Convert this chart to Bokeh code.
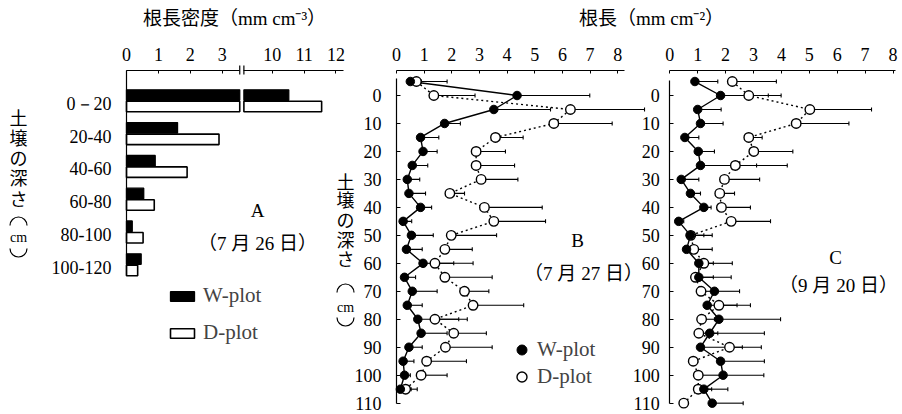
import math
from bokeh.plotting import figure
from bokeh.models import (Range1d, LinearAxis, FixedTicker, Label, Legend, LegendItem,
                          ColumnDataSource, Whisker, TeeHead, Grid)
from bokeh.embed import file_html
from bokeh.resources import INLINE

# ---------------- data ----------------
# Panel A : root length density (mm cm-3), 7/26
depth_classes = ["0－20", "20-40", "40-60", "60-80", "80-100", "100-120"]
rld_w = [10.52, 1.60, 0.90, 0.54, 0.18, 0.46]
rld_d = [11.55, 2.90, 1.90, 0.87, 0.52, 0.35]
a_ticks_low = [0, 1, 2, 3]
a_ticks_high = [10, 11, 12]

# Panel B : root length (mm cm-2), 7/27
depth_b = [-5, 0, 5, 10, 15, 20, 25, 30, 35, 40, 45, 50, 55, 60, 65, 70, 75, 80, 85, 90, 95, 100, 105]
w_b = [0.50, 4.36, 3.52, 1.74, 0.87, 0.96, 0.57, 0.39, 0.45, 0.87, 0.24, 0.54, 0.36, 0.96, 0.29,
       0.57, 0.39, 0.77, 0.89, 0.45, 0.24, 0.29, 0.14]
w_b_sd = [0.40, 2.63, 2.05, 0.57, 0.66, 0.51, 0.56, 0.45, 0.60, 0.40, 0.31, 0.79, 0.57, 1.11, 0.40,
          0.90, 0.54, 1.48, 0.94, 0.48, 0.39, 0.21, 0.39]
d_b = [0.72, 1.35, 6.29, 5.69, 3.58, 2.88, 2.88, 3.06, 1.93, 3.18, 3.52, 1.98, 1.75, 1.39, 1.75,
       2.46, 2.77, 1.39, 2.07, 1.77, 1.09, 0.89, 0.33]
d_b_sd = [1.11, 1.49, 2.68, 2.11, 1.00, 1.06, 1.39, 1.33, 0.53, 2.09, 1.87, 1.64, 0.99, 1.38, 1.71,
          0.88, 1.83, 1.17, 1.18, 1.69, 1.44, 0.94, 0.42]

# Panel C : root length (mm cm-2), 9/20
depth_c = [-5, 0, 5, 10, 15, 20, 25, 30, 35, 40, 45, 50, 55, 60, 65, 70, 75, 80, 85, 90, 95, 100, 105, 110]
w_c = [0.90, 1.82, 1.00, 1.10, 0.54, 1.02, 1.10, 0.41, 0.74, 1.22, 0.32, 0.74, 0.60, 1.04, 1.04,
       1.60, 1.34, 1.76, 1.43, 1.10, 1.82, 1.91, 1.22, 1.52]
w_c_sd = [0.82, 1.71, 0.84, 0.81, 0.50, 0.58, 2.01, 0.63, 0.36, 0.26, 0.18, 0.78, 0.30, 0.52, 1.16,
          0.90, 1.07, 2.21, 1.96, 1.50, 1.57, 1.46, 0.86, 1.11]
d_c = [2.24, 2.83, 5.02, 4.53, 2.83, 3.01, 2.35, 1.96, 1.79, 1.85, 2.20, 0.75, 0.86, 1.22, 0.92,
       1.12, 1.76, 1.14, 1.04, 2.14, 0.84, 1.02, 1.02, 0.50]
d_c_sd = [1.58, 1.16, 2.21, 1.89, 0.48, 1.40, 1.86, 1.26, 0.53, 1.04, 1.41, 0.47, 0.66, 1.02, 0.64,
          0.43, 1.13, 0.46, 0.68, 1.14, 0.16, 0.86, 0.48, 0.00]

rl_ticks = [0, 1, 2, 3, 4, 5, 6, 7, 8]
depth_ticks = [0, 10, 20, 30, 40, 50, 60, 70, 80, 90, 100, 110]

# ---------------- geometry (pixels) ----------------
W, H = 902, 414
FL, FR, FT, FB = 0, W, 0, H   # frame covers the whole canvas (no clipping of texts)
X0, XS = 396.0, 27.65      # panel B: x of 0, px per unit
C0, CS = 669.3, 27.9       # panel C
A0, AS = 126.0, 31.9       # panel A (display units)
Y0, YS = 95.0, 2.797       # depth axis
YA0, YAS = 103.3, 32.8     # panel A category rows
AXIS_TOP = 70              # y of the top axes

A_SHIFT = 10 - 4.567       # broken axis: upper part shifted left
BRK_LO, BRK_HI = 3.55, 3.68


def px(xp):
    return (xp - X0) / XS


def py(yp):
    return (yp - Y0) / YS


def a_disp(v):
    return v if v <= BRK_LO else v - A_SHIFT


SERIF = "Liberation Serif"
JP = "Liberation Serif, Noto Sans CJK JP"

p = figure(width=W, height=H, output_backend="svg", toolbar_location=None,
           x_range=Range1d(px(FL), px(FR)), y_range=Range1d(py(FB), py(FT)),
           x_axis_location=None, y_axis_location=None, min_border=0)
p.extra_x_ranges = {"a": Range1d((FL - A0) / AS, (FR - A0) / AS),
                    "c": Range1d((FL - C0) / CS, (FR - C0) / CS)}
p.extra_y_ranges = {"ya": Range1d((FB - YA0) / YAS, (FT - YA0) / YAS)}
p.outline_line_color = None
p.background_fill_color = "white"
p.border_fill_color = "white"
for r in p.center:
    if isinstance(r, Grid):
        r.visible = False


def style_axis(ax, size="18px", tin=4, standoff=8):
    ax.minor_tick_line_color = None
    ax.major_tick_in = tin
    ax.major_tick_out = 0
    ax.major_label_text_font = SERIF
    ax.major_label_text_font_size = size
    ax.major_label_text_color = "black"
    ax.axis_line_color = "black"
    ax.axis_line_width = 1.2
    ax.major_tick_line_color = "black"
    ax.major_label_standoff = standoff
    return ax


top_y = py(AXIS_TOP)

# Panel A axes
ax = LinearAxis(x_range_name="a", fixed_location=top_y, bounds=(0, BRK_LO),
                ticker=FixedTicker(ticks=a_ticks_low))
style_axis(ax, tin=3, standoff=10)
p.add_layout(ax, "above")
hi_pos = [round(a_disp(t), 4) for t in a_ticks_high]
ax = LinearAxis(x_range_name="a", fixed_location=top_y, bounds=(BRK_HI, 6.8),
                ticker=FixedTicker(ticks=hi_pos))
ax.major_label_overrides = {pos: str(t) for pos, t in zip(hi_pos, a_ticks_high)}
style_axis(ax, tin=3, standoff=10)
p.add_layout(ax, "above")
ax = LinearAxis(x_range_name="a", y_range_name="ya", fixed_location=0,
                bounds=((AXIS_TOP - YA0) / YAS, (275 - YA0) / YAS),
                ticker=FixedTicker(ticks=list(range(len(depth_classes)))))
ax.major_label_overrides = {i: s for i, s in enumerate(depth_classes)}
style_axis(ax, tin=0, standoff=15)
p.add_layout(ax, "left")

# Panel B axes
ax = LinearAxis(fixed_location=top_y, bounds=(0, 8.25), ticker=FixedTicker(ticks=rl_ticks))
style_axis(ax, tin=3, standoff=10)
p.add_layout(ax, "above")
ax = LinearAxis(fixed_location=0, bounds=(py(78), 110), ticker=FixedTicker(ticks=depth_ticks))
style_axis(ax, tin=4, standoff=15)
p.add_layout(ax, "left")

# Panel C axes
ax = LinearAxis(x_range_name="c", fixed_location=top_y, bounds=(0, 8.1),
                ticker=FixedTicker(ticks=rl_ticks))
style_axis(ax, tin=3, standoff=10)
p.add_layout(ax, "above")
ax = LinearAxis(x_range_name="c", fixed_location=0, bounds=(py(80), 110),
                ticker=FixedTicker(ticks=depth_ticks))
style_axis(ax, tin=4, standoff=10)
p.add_layout(ax, "left")

# ---------------- Panel A bars ----------------
def bar_segments(vals, off_top, off_bot):
    L, R, T, B = [], [], [], []
    for i, v in enumerate(vals):
        if a_disp(v) <= BRK_LO:
            segs = [(0, a_disp(v))]
        else:
            segs = [(0, BRK_LO), (BRK_HI, a_disp(v))]
        for l, r in segs:
            L.append(l); R.append(r); T.append(i + off_top); B.append(i + off_bot)
    return dict(left=L, right=R, top=T, bottom=B)


rw_a = p.quad(source=ColumnDataSource(bar_segments(rld_w, -0.427, -0.107)),
              left="left", right="right", top="top", bottom="bottom",
              x_range_name="a", y_range_name="ya",
              fill_color="black", line_color="black", line_width=1.3)
rd_a = p.quad(source=ColumnDataSource(bar_segments(rld_d, -0.076, 0.244)),
              left="left", right="right", top="top", bottom="bottom",
              x_range_name="a", y_range_name="ya",
              fill_color="white", line_color="black", line_width=1.6)
# axis break marks
p.segment(x0=[BRK_LO, BRK_HI], x1=[BRK_LO, BRK_HI], y0=[py(65), py(65)], y1=[py(74), py(74)],
          x_range_name="a", line_color="black", line_width=1.2)

# ---------------- Panels B & C ----------------
def profile(depth, w, wsd, d, dsd, xr):
    src_w = ColumnDataSource(dict(y=depth, x=w, up=[a + b for a, b in zip(w, wsd)]))
    src_d = ColumnDataSource(dict(y=depth, x=d, up=[a + b for a, b in zip(d, dsd)]))
    for src in (src_w, src_d):
        p.add_layout(Whisker(source=src, base="y", lower="x", upper="up", dimension="width",
                             x_range_name=xr, line_color="black", line_width=1.1,
                             lower_head=None,
                             upper_head=TeeHead(size=4, line_color="black", line_width=1.1)))
    p.line("x", "y", source=src_d, x_range_name=xr, line_color="black", line_width=1.4,
           line_dash="2 3")
    p.line("x", "y", source=src_w, x_range_name=xr, line_color="black", line_width=1.4)
    rd = p.scatter("x", "y", source=src_d, x_range_name=xr, size=9.5, marker="circle",
                   fill_color="white", line_color="black", line_width=1.4)
    rw = p.scatter("x", "y", source=src_w, x_range_name=xr, size=8.5, marker="circle",
                   fill_color="black", line_color="black")
    return rw, rd


rw_b, rd_b = profile(depth_b, w_b, w_b_sd, d_b, d_b_sd, "default")
profile(depth_c, w_c, w_c_sd, d_c, d_c_sd, "c")

# ---------------- legends ----------------
leg_a = Legend(items=[LegendItem(label="W-plot", renderers=[rw_a]),
                      LegendItem(label="D-plot", renderers=[rd_a])],
               location=(167, 69), glyph_width=30, glyph_height=12, label_height=20,
               spacing=12, padding=0, margin=0, label_standoff=6,
               border_line_color=None, background_fill_alpha=0,
               label_text_font=SERIF, label_text_font_size="21px")
p.add_layout(leg_a)
leg_b = Legend(items=[LegendItem(label="W-plot", renderers=[rw_b]),
                      LegendItem(label="D-plot", renderers=[rd_b])],
               location=(509, 25), glyph_width=25, glyph_height=25, label_height=25,
               spacing=2, padding=0, margin=0, label_standoff=3,
               border_line_color=None, background_fill_alpha=0,
               label_text_font=SERIF, label_text_font_size="21px")
p.add_layout(leg_b)

# ---------------- texts ----------------
def lab(text, xp, yp, size=19, font=JP, angle=0, align="center"):
    p.add_layout(Label(x=px(xp), y=py(yp), text=text, text_font=font,
                       text_font_size=f"{size}px", text_align=align,
                       text_baseline="middle", angle=angle, text_color="black"))


lab("根長密度（mm cm⁻³）", 234, 18)
lab("根長（mm cm⁻²）", 651, 18)
lab("A", 257, 210, 19, SERIF)
lab("（7 月 26 日）", 257, 243)
lab("B", 577, 240, 19, SERIF)
lab("（7 月 27 日）", 583, 273)
lab("C", 835, 257, 19, SERIF)
lab("（9 月 20 日）", 838, 285)


def vertical_label(xc, ys, paren_top, paren_bot):
    chars = ["土", "壌", "の", "深", "さ", "cm"]
    for ch, yy in zip(chars, ys):
        if ch == "cm":
            lab(ch, xc, yy, 14, SERIF)
        else:
            lab(ch, xc, yy, 18, "Noto Sans CJK JP")
    # vertical-writing parentheses drawn as arcs
    p.arc(x=[px(xc)], y=[py(paren_top)], radius=8.5, radius_units="screen",
          start_angle=0, end_angle=math.pi, direction="anticlock",
          line_color="black", line_width=1.2)
    p.arc(x=[px(xc)], y=[py(paren_bot)], radius=8.5, radius_units="screen",
          start_angle=math.pi, end_angle=2 * math.pi, direction="anticlock",
          line_color="black", line_width=1.2)


vertical_label(18, [116.7, 136, 156, 176, 197, 237], 225, 248)
vertical_label(345, [180, 198.5, 218.5, 238.5, 257, 306.7], 292, 317)

open("out.html", "w").write(file_html(p, INLINE))
